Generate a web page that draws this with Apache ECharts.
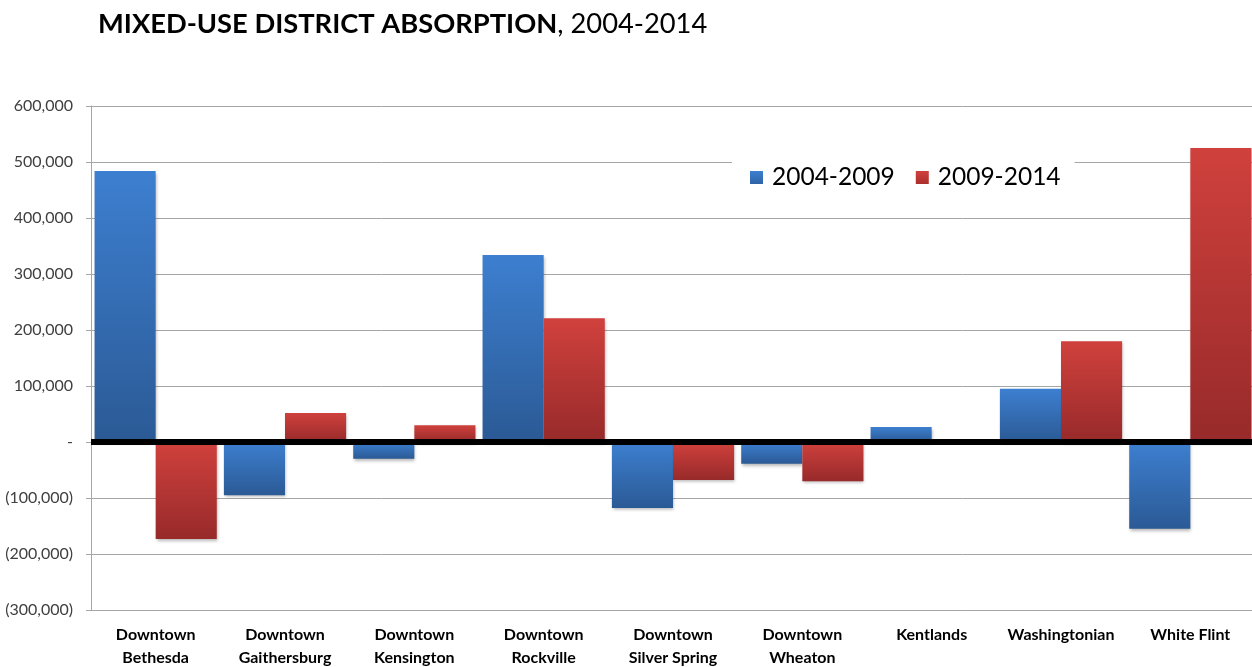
<!DOCTYPE html>
<html>
<head>
<meta charset="utf-8">
<title>Mixed-Use District Absorption, 2004-2014</title>
<script src="https://cdn.jsdelivr.net/npm/echarts@6/dist/echarts.min.js"></script>
<style>
  html, body { margin: 0; padding: 0; background: #ffffff; }
  #chart { width: 1252px; height: 667px; }
</style>
</head>
<body>
<div id="chart"></div>
<script>
// Districts along the category axis
const districts = [
  'Downtown\nBethesda',
  'Downtown\nGaithersburg',
  'Downtown\nKensington',
  'Downtown\nRockville',
  'Downtown\nSilver Spring',
  'Downtown\nWheaton',
  'Kentlands',
  'Washingtonian',
  'White Flint'
];

// Net absorption (sq ft) per period
const absorption2004to2009 = [484000, -95000, -30000, 334000, -118000, -39000, 27000, 95000, -155000];
const absorption2009to2014 = [-173000, 52000, 30000, 221000, -68000, -70000, 0, 180000, 525000];

const seriesNames = ['2004-2009', '2009-2014'];

// Value axis range
const yMin = -300000;
const yMax = 600000;
const yStep = 100000;

const FONT = 'Lato, "Open Sans", sans-serif';

function gradient(top, bottom) {
  return new echarts.graphic.LinearGradient(0, 0, 0, 1, [
    { offset: 0, color: top },
    { offset: 1, color: bottom }
  ]);
}

function formatValue(v) {
  if (v === 0) return '-';
  const s = Math.abs(v).toLocaleString('en-US');
  return v < 0 ? '(' + s + ')' : s;
}

const barShadow = {
  shadowBlur: 3,
  shadowOffsetX: 1,
  shadowOffsetY: 2,
  shadowColor: 'rgba(0,0,0,0.28)'
};

const chart = echarts.init(document.getElementById('chart'), null, { renderer: 'canvas' });

chart.setOption({
  animation: false,
  backgroundColor: '#ffffff',
  title: {
    text: '{b|MIXED-USE DISTRICT ABSORPTION}{n|, 2004-2014}',
    left: 93,
    top: 6,
    textStyle: {
      rich: {
        b: { fontFamily: FONT, fontWeight: 'bold', fontSize: 27.3, color: '#000000' },
        n: { fontFamily: FONT, fontWeight: 'normal', fontSize: 27.3, color: '#000000' }
      }
    }
  },
  legend: {
    left: 732,
    top: 158,
    itemGap: 21,
    itemWidth: 13,
    itemHeight: 13,
    padding: [7, 14, 7, 18],
    backgroundColor: '#ffffff',
    icon: 'rect',
    textStyle: { fontFamily: FONT, fontSize: 24.5, color: '#000000', padding: [0, 0, 0, 4] },
    data: [
      { name: seriesNames[0], itemStyle: { color: gradient('#3d7fd0', '#2f64a6') } },
      { name: seriesNames[1], itemStyle: { color: gradient('#d0413d', '#ab2f2d') } }
    ]
  },
  grid: {
    left: 91,
    right: -3,
    top: 106,
    bottom: 57,
    containLabel: false,
    outerBoundsMode: 'none'
  },
  xAxis: {
    type: 'category',
    data: districts,
    axisLine: { onZero: false, lineStyle: { color: '#a6a6a6', width: 1 } },
    axisTick: { show: false },
    axisLabel: {
      interval: 0,
      margin: 13,
      fontFamily: FONT,
      fontWeight: 'bold',
      fontSize: 16,
      lineHeight: 23,
      color: '#000000'
    },
    splitLine: { show: false }
  },
  yAxis: {
    type: 'value',
    min: yMin,
    max: yMax,
    interval: yStep,
    axisLine: { show: true, lineStyle: { color: '#a6a6a6', width: 1 } },
    axisTick: { show: true, length: 5, lineStyle: { color: '#a6a6a6' } },
    axisLabel: {
      margin: 18,
      fontFamily: FONT,
      fontSize: 16,
      color: '#404040',
      formatter: formatValue
    },
    splitLine: { show: true, lineStyle: { color: '#a6a6a6', width: 1 } }
  },
  series: [
    {
      name: seriesNames[0],
      type: 'bar',
      data: absorption2004to2009,
      barGap: '0%',
      barCategoryGap: '5.5%',
      itemStyle: Object.assign({ color: gradient('#3d7fd0', '#2b5a95') }, barShadow),
      markLine: {
        silent: true,
        symbol: ['none', 'none'],
        label: { show: false },
        lineStyle: { color: '#000000', width: 6, type: 'solid' },
        data: [{ yAxis: 0 }],
        z: 10
      }
    },
    {
      name: seriesNames[1],
      type: 'bar',
      data: absorption2009to2014,
      barGap: '0%',
      barCategoryGap: '5.5%',
      itemStyle: Object.assign({ color: gradient('#d0413d', '#972a2a') }, barShadow)
    }
  ]
});
</script>
</body>
</html>
